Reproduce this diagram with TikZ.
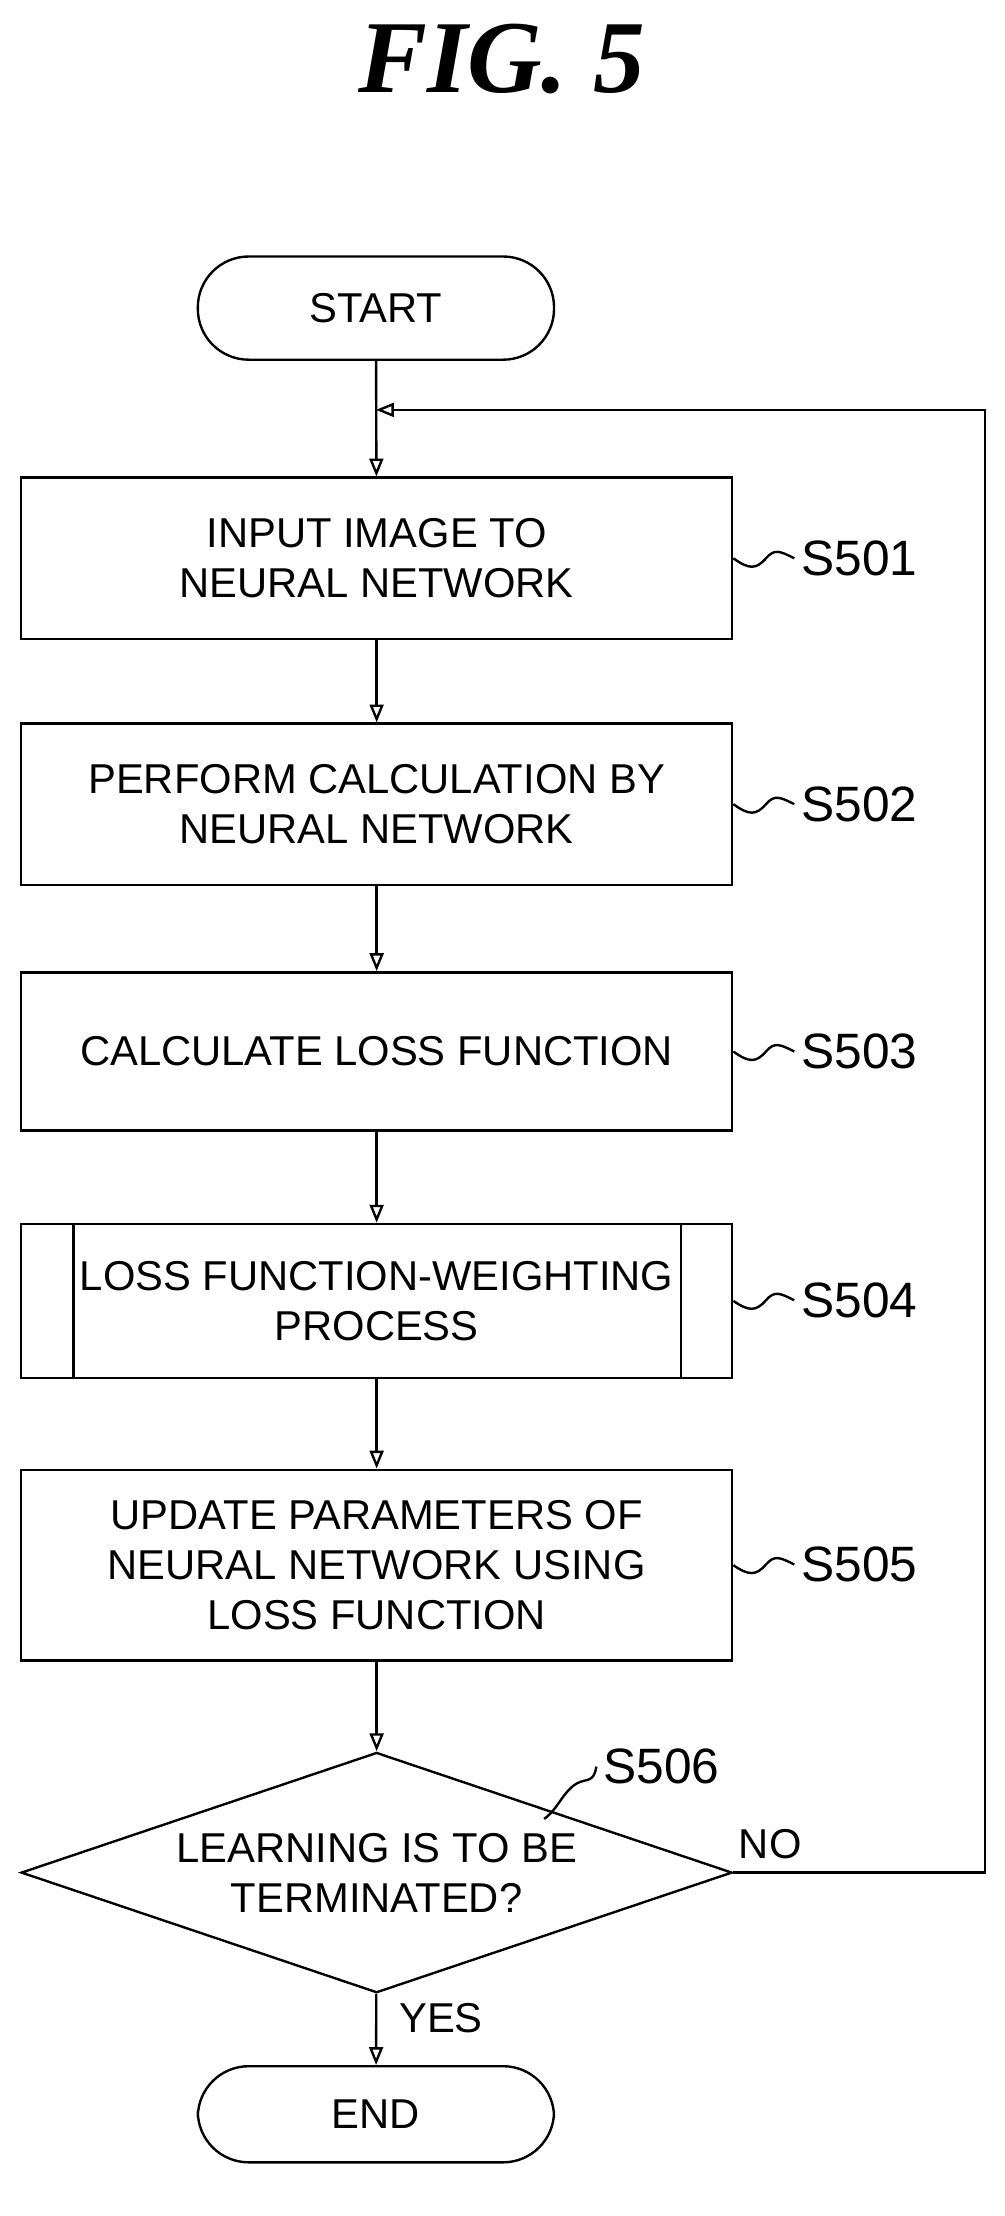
\documentclass[tikz,border=0pt]{standalone}
\usepackage{fontspec}
\setmainfont{Liberation Sans}
\newfontfamily\titlefont{Liberation Serif}
\usetikzlibrary{shapes.geometric,arrows.meta}
\begin{document}
\begin{tikzpicture}[x=0.025cm,y=-0.025cm,
  every node/.style={font=\fontsize{21}{25}\selectfont, align=center},
  box/.style={draw, line width=1.2pt, minimum width=12.575cm, inner sep=0pt},
  term/.style={draw, line width=1.2pt, rounded corners=0.9cm, minimum width=6.3cm},
  line/.style={line width=1.2pt},
  arr/.style={line width=1.2pt, -{Triangle[open,length=9pt,width=7pt]}},
  lab/.style={font=\fontsize{25}{29}\selectfont}]
\useasboundingbox (0,0) rectangle (711,1568);
\node[font=\titlefont\bfseries\itshape\fontsize{52}{60}\selectfont] (title) at (355,42) {FIG. 5};
\node[term, minimum height=1.825cm] (start) at (266,218) {START};
\node[box, minimum height=2.85cm] (b1) at (266.5,395) {INPUT IMAGE TO\\NEURAL NETWORK};
\node[box, minimum height=2.85cm] (b2) at (266.5,569) {PERFORM CALCULATION BY\\NEURAL NETWORK};
\node[box, minimum height=2.8cm] (b3) at (266.5,744) {CALCULATE LOSS FUNCTION};
\node[box, minimum height=2.725cm] (b4) at (266.5,920.5) {LOSS FUNCTION-WEIGHTING\\PROCESS};
\draw[line] (52,866) -- (52,975) (482,866) -- (482,975);
\node[box, minimum height=3.375cm] (b5) at (266.5,1107.5) {UPDATE PARAMETERS OF\\NEURAL NETWORK USING\\LOSS FUNCTION};
\node[draw, line width=1.2pt, diamond, aspect=2.96, minimum width=12.575cm, minimum height=4.25cm, inner sep=0pt] (d) at (266.5,1325) {LEARNING IS TO BE\\TERMINATED?};
\node[term, minimum height=1.7cm] (end) at (266,1496) {END};
\foreach \n/\y/\t in {b1/395/S501,b2/569/S502,b3/744/S503,b4/920/S504,b5/1107/S505}{
  \node[lab, anchor=west] (l\n) at (562,\y) {\t};
  \draw[line] (\n.east) .. controls (530,\y+8) and (535,\y+8) .. (542,\y) .. controls (548,\y-7) and (552,\y-5) .. (l\n.west);
}
\node[lab] (l6) at (468,1250) {S506};
\draw[line] (385,1287) .. controls (395,1280) and (398,1268) .. (408,1262) .. controls (415,1258) and (420,1262) .. (l6.west);
\node (no) at (545,1305) {NO};
\node (yes) at (312,1428) {YES};
\coordinate (j) at (266,290);
\coordinate (c1) at (697,1325);
\coordinate (c2) at (697,290);
\draw[arr] (start) -- (b1);
\draw[arr] (b1) -- (b2);
\draw[arr] (b2) -- (b3);
\draw[arr] (b3) -- (b4);
\draw[arr] (b4) -- (b5);
\draw[arr] (b5) -- (d);
\draw[arr] (d) -- (end);
\draw[arr] (d.east) -- (c1) -- (c2) -- (j);
\end{tikzpicture}
\end{document}
